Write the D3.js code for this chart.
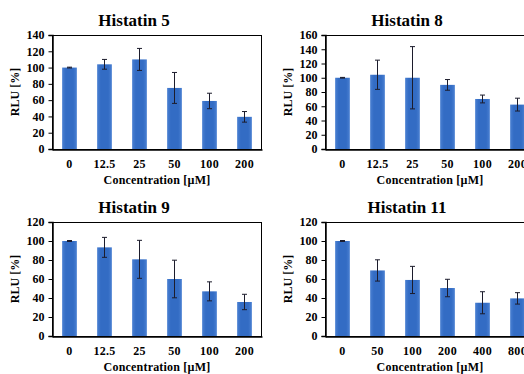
<!DOCTYPE html>
<html>
<head>
<meta charset="utf-8">
<script src="https://cdn.jsdelivr.net/npm/d3@7"></script>
<style>
  body { margin: 0; background: #fff; }
  svg text { font-family: "Liberation Serif", "Times New Roman", serif; font-weight: bold; fill: #000; }
</style>
</head>
<body>
<div id="chart"></div>
<script>
// data
var titles = ["Histatin 5", "Histatin 8", "Histatin 9", "Histatin 11"];
var concA = ["0", "12.5", "25", "50", "100", "200"];
var concB = ["0", "50", "100", "200", "400", "800"];

var h5 = [100, 104, 110, 75, 59, 39.5];
var h5err = [0.5, 6, 13.5, 19, 9.5, 6.5];
var h8 = [100, 104.2, 100, 90, 70.2, 62.3];
var h8err = [0.5, 20.5, 43.7, 7.5, 5.5, 9];
var h9 = [100, 93.3, 80.7, 60, 47, 35.8];
var h9err = [0.5, 10.5, 20, 19.8, 10, 8.1];
var h11 = [100, 69, 59, 50.5, 35, 39.6];
var h11err = [0.5, 11.2, 14.3, 9.2, 11.6, 6];

var yMax = [140, 160, 120, 120];

var panels = [
  {title: titles[0], cats: concA, vals: h5, errs: h5err, ymax: yMax[0], left: 52, top: 35},
  {title: titles[1], cats: concA, vals: h8, errs: h8err, ymax: yMax[1], left: 325, top: 35},
  {title: titles[2], cats: concA, vals: h9, errs: h9err, ymax: yMax[2], left: 52, top: 222},
  {title: titles[3], cats: concB, vals: h11, errs: h11err, ymax: yMax[3], left: 325, top: 222}
];

var W = 524, H = 374;
var pw = 209, ph = 114;

var svg = d3.select("#chart").append("svg")
  .attr("width", W)
  .attr("height", H);

// bar gradient
var grad = svg.append("defs").append("linearGradient")
  .attr("id", "barGrad")
  .attr("x1", "0%").attr("x2", "100%").attr("y1", "0%").attr("y2", "0%");
grad.append("stop").attr("offset", "0%").attr("stop-color", "#4a80d2");
grad.append("stop").attr("offset", "25%").attr("stop-color", "#336cc4");
grad.append("stop").attr("offset", "75%").attr("stop-color", "#336cc4");
grad.append("stop").attr("offset", "100%").attr("stop-color", "#4a80d2");

panels.forEach(function(p) {
  var g = svg.append("g").attr("transform", "translate(" + p.left + "," + p.top + ")");

  var x = d3.scaleBand()
    .domain(p.cats)
    .range([0, pw + 1])
    .paddingInner(0.58)
    .paddingOuter(0.29);

  var y = d3.scaleLinear()
    .domain([0, p.ymax])
    .range([ph, 0]);

  // title
  g.append("text")
    .attr("x", 82)
    .attr("y", -9)
    .attr("text-anchor", "middle")
    .style("font-size", "17px")
    .text(p.title);

  // bars
  g.selectAll("rect.bar")
    .data(p.vals)
    .enter()
    .append("rect")
      .attr("class", "bar")
      .attr("x", function(d, i) { return x(p.cats[i]); })
      .attr("width", x.bandwidth())
      .attr("y", function(d) { return y(d); })
      .attr("height", function(d) { return ph - y(d); })
      .attr("fill", "url(#barGrad)");

  // error bars
  var eb = g.selectAll("g.err")
    .data(p.vals)
    .enter()
    .append("g")
      .attr("class", "err")
      .attr("stroke", "#1c1c2c")
      .attr("stroke-width", 1);
  eb.append("line")
    .attr("x1", function(d, i) { return x(p.cats[i]) + x.bandwidth() / 2; })
    .attr("x2", function(d, i) { return x(p.cats[i]) + x.bandwidth() / 2; })
    .attr("y1", function(d, i) { return y(d + p.errs[i]); })
    .attr("y2", function(d, i) { return y(d - p.errs[i]); });
  eb.append("line")
    .attr("x1", function(d, i) { return x(p.cats[i]) + x.bandwidth() / 2 - 2.5; })
    .attr("x2", function(d, i) { return x(p.cats[i]) + x.bandwidth() / 2 + 2.5; })
    .attr("y1", function(d, i) { return y(d + p.errs[i]); })
    .attr("y2", function(d, i) { return y(d + p.errs[i]); });
  eb.append("line")
    .attr("x1", function(d, i) { return x(p.cats[i]) + x.bandwidth() / 2 - 2.5; })
    .attr("x2", function(d, i) { return x(p.cats[i]) + x.bandwidth() / 2 + 2.5; })
    .attr("y1", function(d, i) { return y(d - p.errs[i]); })
    .attr("y2", function(d, i) { return y(d - p.errs[i]); });

  // frame
  g.append("rect")
    .attr("x", 0.5).attr("y", 0.5)
    .attr("width", pw).attr("height", ph)
    .attr("fill", "none")
    .attr("stroke", "#000")
    .attr("stroke-width", 1);

  // y axis
  var yAx = g.append("g")
    .attr("transform", "translate(0.5,0)")
    .call(d3.axisLeft(y).ticks(p.ymax / 20).tickSize(4).tickPadding(4));
  yAx.select(".domain").attr("stroke-width", 1.5);
  yAx.selectAll("text").style("font-size", "12px");

  // x axis
  var xAx = g.append("g")
    .attr("transform", "translate(0," + (ph + 0.5) + ")")
    .call(d3.axisBottom(x).tickSize(0).tickPadding(10));
  xAx.select(".domain").attr("stroke-width", 1.5);
  xAx.selectAll("text").style("font-size", "12px").style("letter-spacing", "0.3px");

  // axis titles
  g.append("text")
    .attr("transform", "rotate(-90)")
    .attr("x", -ph / 2)
    .attr("y", -33)
    .attr("text-anchor", "middle")
    .style("font-size", "12px")
    .text("RLU [%]");

  g.append("text")
    .attr("x", 105)
    .attr("y", ph + 35)
    .attr("text-anchor", "middle")
    .style("font-size", "12px")
    .style("letter-spacing", "0.2px")
    .text("Concentration [µM]");
});
</script>
</body>
</html>
